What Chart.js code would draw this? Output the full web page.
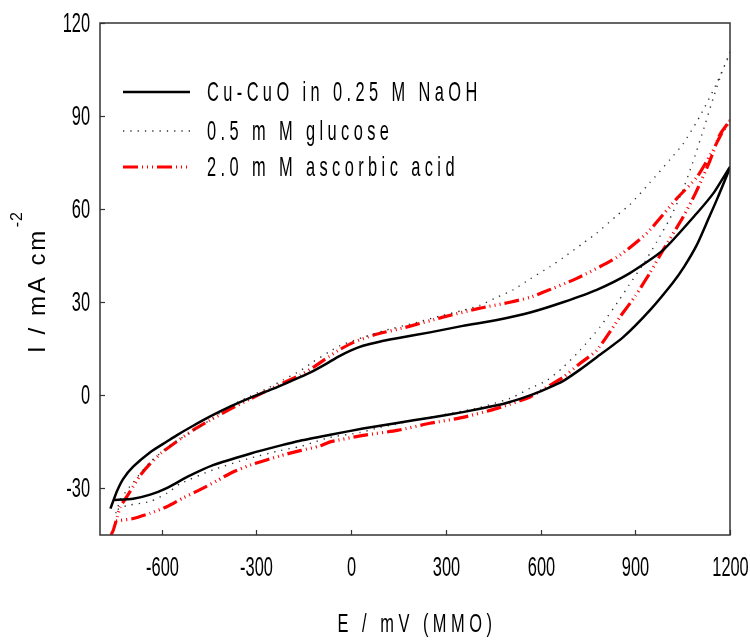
<!DOCTYPE html>
<html>
<head>
<meta charset="utf-8">
<script src="https://cdn.jsdelivr.net/npm/chart.js@4.4.1/dist/chart.umd.min.js"></script>
<style>
  body { margin: 0; background: #fff; }
  canvas { display: block; }
</style>
</head>
<body>
<canvas id="cv" width="750" height="641"></canvas>
<script>
// Cu-CuO in 0.25 M NaOH (forward sweep then return sweep)
var baseE = [-762, -753, -741, -722, -690, -636, -582, -551, -500, -446, -380, -320, -250, -190, -130, -76, -40, 0, 38, 90, 146, 250, 354, 462, 567, 671, 778, 883, 988, 1095, 1150, 1200,
             1158, 1130, 1095, 1055, 1019, 946, 861, 778, 725, 671, 620, 567, 500, 462, 354, 250, 146, 38, -66, -161, -225, -320, -437, -519, -582, -636, -690, -753];
var baseI = [-36.5, -34, -30.8, -27, -23, -18.3, -14.8, -12.8, -9.8, -6.8, -3.5, -0.8, 2.0, 4.6, 7.3, 10.3, 12.5, 14.5, 16, 17.3, 18.4, 20.3, 22.4, 24.3, 26.7, 30, 34, 39.4, 46.8, 58.7, 65.5, 73.5,
             63, 56.5, 48.5, 41.5, 36.3, 27.4, 18.7, 12.3, 8.3, 4.6, 2.2, 0, -2.2, -3.2, -5.4, -7.2, -8.9, -10.7, -12.7, -14.6, -16.2, -18.8, -22.5, -26.3, -29.8, -32, -33.3, -33.7];

// 0.5 mM glucose
var glucE = [-745, -730, -709, -690, -636, -582, -541, -478, -437, -380, -320, -260, -215, -160, -120, -70, -35, 38, 110, 196, 280, 354, 408, 462, 513, 567, 630, 671, 734, 778, 842, 883, 946, 1010, 1051, 1105, 1158, 1190, 1200,
             1174, 1146, 1114, 1082, 1050, 1010, 968, 930, 880, 851, 788, 725, 671, 620, 567, 513, 408, 250, 92, 28, -66, -120, -161, -225, -329, -437, -541, -582, -636, -709, -745];
var glucI = [-38, -33.5, -30.5, -28, -21.5, -16.8, -14, -10, -7.3, -3.3, -0.3, 2.5, 5, 8, 10.8, 14, 16, 18.7, 21, 23.2, 25.5, 27.4, 29, 31.6, 34, 37.5, 41.5, 44.3, 49, 52.3, 58, 61.5, 68.5, 76, 81, 90, 100.6, 108, 110.5,
             104, 95.5, 85, 75, 66, 57, 49.5, 43, 35.5, 31, 22, 14.5, 9, 4.8, 2.3, -0.6, -3.9, -7.1, -10.3, -12, -13.5, -15.2, -16.5, -17.8, -20.5, -24, -28.5, -31.5, -34.2, -35.5, -37];

// 2.0 mM ascorbic acid
var ascE = [-760, -753, -740, -731, -700, -668, -636, -600, -551, -500, -446, -380, -320, -260, -215, -160, -120, -70, -35, 6, 70, 187, 291, 408, 503, 567, 608, 715, 842, 937, 1032, 1095, 1146, 1174, 1200,
            1168, 1136, 1090, 1051, 988, 946, 900, 851, 778, 725, 671, 640, 567, 462, 354, 250, 146, 38, -66, -98, -161, -225, -320, -380, -424, -478, -531, -582, -636, -690, -731, -748];
var ascI = [-45, -43.5, -39, -36, -31, -25.8, -22, -18.5, -14.8, -11.2, -8, -4.3, -1.2, 1.8, 4, 6.6, 9, 12.5, 14.8, 17, 19.4, 22.3, 25.2, 28.1, 30, 31.6, 33.2, 37.7, 44.5, 52.3, 63.5, 70.3, 79, 84.5, 88.5,
            84, 75.5, 65, 57.4, 46.8, 39.4, 32, 25.2, 14.5, 10.3, 5.8, 3.9, -0.5, -4.2, -7.1, -9, -11.3, -12.9, -15, -16.3, -17.8, -19.5, -22.5, -25, -27.5, -30.4, -33, -35.8, -38, -39.7, -40.3, -40.6];

var seriesNames = ['Cu-CuO in 0.25 M NaOH', '0.5 m M glucose', '2.0 m M ascorbic acid'];
var xTicks = [-600, -300, 0, 300, 600, 900, 1200];
var yTicks = [-30, 0, 30, 60, 90, 120];

function pts(xs, ys) {
  return xs.map(function(v, i) { return { x: v, y: ys[i] }; });
}

var FONT = '"Liberation Sans", Arial, sans-serif';

// condensed text, stretched vertically like the original figure
function tallText(ctx, txt, x, y, size, sy, spacing, align) {
  ctx.save();
  ctx.translate(x, y);
  ctx.scale(0.82, sy);
  ctx.font = size + 'px ' + FONT;
  ctx.letterSpacing = (spacing / 0.82) + 'px';
  ctx.textAlign = align;
  ctx.textBaseline = 'middle';
  ctx.fillStyle = '#000';
  ctx.fillText(txt, 0, 0);
  ctx.restore();
}

var framePlugin = {
  id: 'frame',
  afterDraw: function(chart) {
    var ctx = chart.ctx, a = chart.chartArea;
    var xs = chart.scales.x, ys = chart.scales.y;
    ctx.save();
    ctx.strokeStyle = '#333';
    ctx.lineWidth = 1.5;
    ctx.strokeRect(a.left, a.top, a.right - a.left, a.bottom - a.top);

    // inward ticks + labels
    ctx.lineWidth = 1.2;
    xs.ticks.forEach(function(t) {
      var px = Math.round(xs.getPixelForValue(t.value)) + 0.5;
      ctx.beginPath(); ctx.moveTo(px, a.bottom); ctx.lineTo(px, a.bottom - 5); ctx.stroke();
      tallText(ctx, String(t.value), px, a.bottom + 33, 20, 1.38, 0, 'center');
    });
    ys.ticks.forEach(function(t) {
      var py = Math.round(ys.getPixelForValue(t.value)) + 0.5;
      ctx.beginPath(); ctx.moveTo(a.left, py); ctx.lineTo(a.left + 5, py); ctx.stroke();
      tallText(ctx, String(t.value), a.left - 10, py + 1, 20, 1.38, 0, 'right');
    });

    // x title
    tallText(ctx, 'E / mV (MMO)', (a.left + a.right) / 2 + 2, 625, 20, 1.25, 4.5, 'center');

    // y title, rotated, with superscript
    ctx.save();
    ctx.translate(45, 353);
    ctx.rotate(-Math.PI / 2);
    ctx.fillStyle = '#000';
    ctx.font = '24px ' + FONT;
    ctx.letterSpacing = '2.6px';
    ctx.textAlign = 'left';
    ctx.textBaseline = 'alphabetic';
    ctx.fillText('I / mA cm', 0, 0);
    var w = ctx.measureText('I / mA cm').width;
    ctx.font = '16px ' + FONT;
    ctx.letterSpacing = '1px';
    ctx.fillText('-2', w + 1, -23);
    ctx.restore();

    // legend
    var rows = [92, 131, 167];
    chart.data.datasets.forEach(function(ds, i) {
      var ry = rows[i];
      ctx.save();
      ctx.strokeStyle = ds.borderColor;
      ctx.lineWidth = ds.borderWidth;
      ctx.setLineDash(ds.borderDash || []);
      ctx.beginPath(); ctx.moveTo(123, ry); ctx.lineTo(190, ry); ctx.stroke();
      ctx.restore();
      tallText(ctx, ds.label, 207, ry + 1, 20, 1.4, 4.4, 'left');
    });
    ctx.restore();
  }
};

new Chart(document.getElementById('cv'), {
  type: 'scatter',
  data: {
    datasets: [
      { label: seriesNames[0], data: pts(baseE, baseI), showLine: true, borderColor: '#000', borderWidth: 2.5, pointRadius: 0, tension: 0.2 },
      { label: seriesNames[1], data: pts(glucE, glucI), showLine: true, borderColor: '#333', borderWidth: 1.4, borderDash: [1.3, 6], pointRadius: 0, tension: 0.2 },
      { label: seriesNames[2], data: pts(ascE, ascI), showLine: true, borderColor: '#ff0000', borderWidth: 3.2, borderDash: [15, 4, 1, 4, 1, 4, 1, 4], pointRadius: 0, tension: 0.2 }
    ]
  },
  options: {
    responsive: false,
    animation: false,
    devicePixelRatio: 1,
    layout: { padding: { left: 0, top: 23, right: 20, bottom: 0 } },
    plugins: { legend: { display: false }, tooltip: { enabled: false } },
    scales: {
      x: {
        type: 'linear', min: -795, max: 1200,
        grid: { display: false }, border: { display: false },
        ticks: { display: false },
        afterBuildTicks: function(axis) { axis.ticks = xTicks.map(function(v) { return { value: v }; }); },
        afterFit: function(axis) { axis.height = 106; }
      },
      y: {
        type: 'linear', min: -45, max: 120,
        grid: { display: false }, border: { display: false },
        ticks: { display: false },
        afterBuildTicks: function(axis) { axis.ticks = yTicks.map(function(v) { return { value: v }; }); },
        afterFit: function(axis) { axis.width = 100; }
      }
    }
  },
  plugins: [framePlugin]
});
</script>
</body>
</html>
